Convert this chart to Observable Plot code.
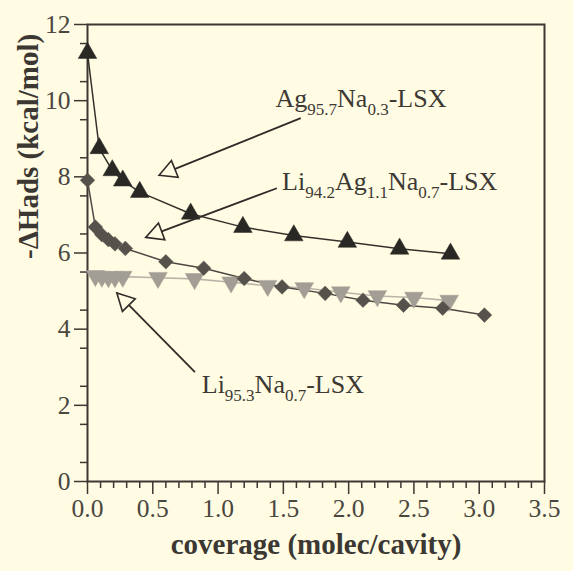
<!DOCTYPE html>
<html><head><meta charset="utf-8">
<script src="https://cdn.jsdelivr.net/npm/d3@7"></script>
<script src="https://cdn.jsdelivr.net/npm/@observablehq/plot@0.6"></script>
<style>
html,body{margin:0;padding:0;background:#fffce3;}
#chart svg{display:block;}
</style>
</head><body><div id="chart"></div>
<script>
// ---- data ----
const agX = [0.00, 0.09, 0.19, 0.27, 0.40, 0.79, 1.19, 1.58, 1.99, 2.39, 2.78];
const agY = [11.25, 8.75, 8.17, 7.90, 7.60, 7.03, 6.68, 6.46, 6.29, 6.11, 5.98];

const liagX = [0.00, 0.06, 0.11, 0.16, 0.21, 0.29, 0.60, 0.89, 1.20, 1.49, 1.82, 2.11, 2.42, 2.72, 3.04];
const liagY = [7.91, 6.68, 6.48, 6.35, 6.24, 6.12, 5.77, 5.60, 5.33, 5.11, 4.94, 4.76, 4.63, 4.55, 4.37];

const liX = [0.06, 0.11, 0.16, 0.21, 0.27, 0.54, 0.82, 1.10, 1.38, 1.66, 1.94, 2.22, 2.50, 2.77];
const liY = [5.40, 5.38, 5.37, 5.37, 5.38, 5.35, 5.32, 5.23, 5.14, 5.08, 4.97, 4.87, 4.83, 4.75];

const xTicks = [0, 0.5, 1, 1.5, 2, 2.5, 3, 3.5];
const yTicks = [0, 2, 4, 6, 8, 10, 12];
const xTitle = "coverage (molec/cavity)";
const yTitle = "-ΔHads (kcal/mol)";

const seriesLabels = ["Ag_{95.7}Na_{0.3}-LSX", "Li_{94.2}Ag_{1.1}Na_{0.7}-LSX", "Li_{95.3}Na_{0.7}-LSX"];
const labelX = [1.44, 1.49, 0.875];
const labelY = [9.83, 7.65, 2.32];

const arrowFromX = [1.633, 1.45, 0.823];
const arrowFromY = [9.54, 7.70, 2.87];
const arrowToX = [0.548, 0.446, 0.225];
const arrowToY = [8.04, 6.41, 4.95];

// ---- tables ----
const ag = agX.map((x, i) => ({x, y: agY[i]}));
const liag = liagX.map((x, i) => ({x, y: liagY[i]}));
const li = liX.map((x, i) => ({x, y: liY[i]}));
const labels = seriesLabels.map((t, i) => ({t, x: labelX[i], y: labelY[i]}));
const arrows = arrowFromX.map((x1, i) => ({x1, y1: arrowFromY[i], x2: arrowToX[i], y2: arrowToY[i]}));
const xMinor = d3.range(0, 36).map(i => i / 10).filter(v => Math.abs(v * 2 - Math.round(v * 2)) > 1e-6);
const yMinor = d3.range(1, 24, 2).map(i => i / 2);

const BG = "#fffce3";
const INK = "#3b3732";
const SERIF = "'Liberation Serif', 'DejaVu Serif', serif";

const invTriangle = {
  draw(ctx, size) {
    const y = -Math.sqrt(size / (Math.sqrt(3) * 3));
    ctx.moveTo(0, -y * 2);
    ctx.lineTo(-Math.sqrt(3) * y, y);
    ctx.lineTo(Math.sqrt(3) * y, y);
    ctx.closePath();
  }
};

const svg = Plot.plot({
  width: 573,
  height: 571,
  marginLeft: 87,
  marginRight: 29,
  marginTop: 24,
  marginBottom: 90,
  style: {background: BG, fontFamily: SERIF, color: INK, overflow: "visible"},
  x: {domain: [0, 3.5]},
  y: {domain: [0, 12]},
  marks: [
    Plot.axisX(xMinor, {tickSize: 7, tickFormat: () => "", label: null, stroke: INK, strokeWidth: 1.5}),
    Plot.axisY(yMinor, {tickSize: 7, tickFormat: () => "", label: null, stroke: INK, strokeWidth: 1.5}),
    Plot.axisX(xTicks, {tickSize: 13, tickPadding: 4, tickFormat: d3.format(".1f"), label: null,
      stroke: INK, fill: "#4a4640", strokeWidth: 1.5, fontSize: 25.5, fontFamily: SERIF}),
    Plot.axisY(yTicks, {tickSize: 13, tickPadding: 4, label: null,
      stroke: INK, fill: "#4a4640", strokeWidth: 1.5, fontSize: 25.5, fontFamily: SERIF}),
    Plot.frame({stroke: INK, strokeWidth: 2}),
    // series lines
    Plot.line(li, {x: "x", y: "y", stroke: "#b9b4a9", strokeWidth: 1.6}),
    Plot.line(liag, {x: "x", y: "y", stroke: "#4c4944", strokeWidth: 1.5}),
    Plot.line(ag, {x: "x", y: "y", stroke: "#34312d", strokeWidth: 1.5}),
    // markers
    Plot.dot(li, {x: "x", y: "y", symbol: invTriangle, r: 6.9, fill: "#a29e95", stroke: "#a29e95", strokeWidth: 0.5}),
    Plot.dot(liag, {x: "x", y: "y", symbol: "diamond2", r: 6.6, fill: "#55524c", stroke: "#55524c", strokeWidth: 0.5}),
    Plot.dot(ag, {x: "x", y: "y", symbol: "triangle", r: 6.9, fill: "#2a2825", stroke: "#2a2825", strokeWidth: 0.5}),
    // annotation arrows
    Plot.link(arrows, {x1: "x1", y1: "y1", x2: "x2", y2: "y2", stroke: "#2e2b28", strokeWidth: 1.8}),
    // annotation labels
    Plot.text(labels, {x: "x", y: "y", text: "t", textAnchor: "start", lineAnchor: "bottom",
      fontSize: 26, fontFamily: SERIF, fill: "#3d3934"}),
    // axis titles
    Plot.text([xTitle], {frameAnchor: "bottom", dy: 72, lineAnchor: "bottom", fontSize: 29,
      fontWeight: "bold", fontFamily: SERIF, fill: INK}),
    Plot.text([yTitle], {frameAnchor: "left", dx: -50, dy: 6, rotate: -90, lineAnchor: "bottom", fontSize: 29,
      fontWeight: "bold", fontFamily: SERIF, fill: INK})
  ]
});

// subscripts in annotation labels
const NS = "http://www.w3.org/2000/svg";
svg.querySelectorAll("text").forEach(t => {
  const s = t.textContent;
  if (!s.includes("_{")) return;
  t.textContent = "";
  const parts = s.split(/(_\{[^}]*\})/).filter(Boolean);
  let down = false;
  for (const p of parts) {
    const ts = document.createElementNS(NS, "tspan");
    if (p.startsWith("_{")) {
      ts.textContent = p.slice(2, -1);
      ts.setAttribute("font-size", "17");
      if (!down) { ts.setAttribute("dy", "8"); down = true; }
    } else {
      ts.textContent = p;
      if (down) { ts.setAttribute("dy", "-8"); down = false; }
    }
    t.appendChild(ts);
  }
});

// hollow triangular arrow heads
const defs = document.createElementNS(NS, "defs");
const marker = document.createElementNS(NS, "marker");
marker.setAttribute("id", "openTri");
marker.setAttribute("viewBox", "-22 -12 26 24");
marker.setAttribute("markerWidth", "26");
marker.setAttribute("markerHeight", "24");
marker.setAttribute("markerUnits", "userSpaceOnUse");
marker.setAttribute("refX", "0");
marker.setAttribute("refY", "0");
marker.setAttribute("orient", "auto");
const head = document.createElementNS(NS, "path");
head.setAttribute("d", "M0,0L-17,-9L-17,9Z");
head.setAttribute("fill", BG);
head.setAttribute("stroke", "#2e2b28");
head.setAttribute("stroke-width", "1.6");
marker.appendChild(head);
defs.appendChild(marker);
svg.insertBefore(defs, svg.firstChild);
const linkG = svg.querySelector('g[aria-label="link"]');
if (linkG) linkG.querySelectorAll("path, line").forEach(p => p.setAttribute("marker-end", "url(#openTri)"));

document.getElementById("chart").appendChild(svg);
</script>
</body></html>
